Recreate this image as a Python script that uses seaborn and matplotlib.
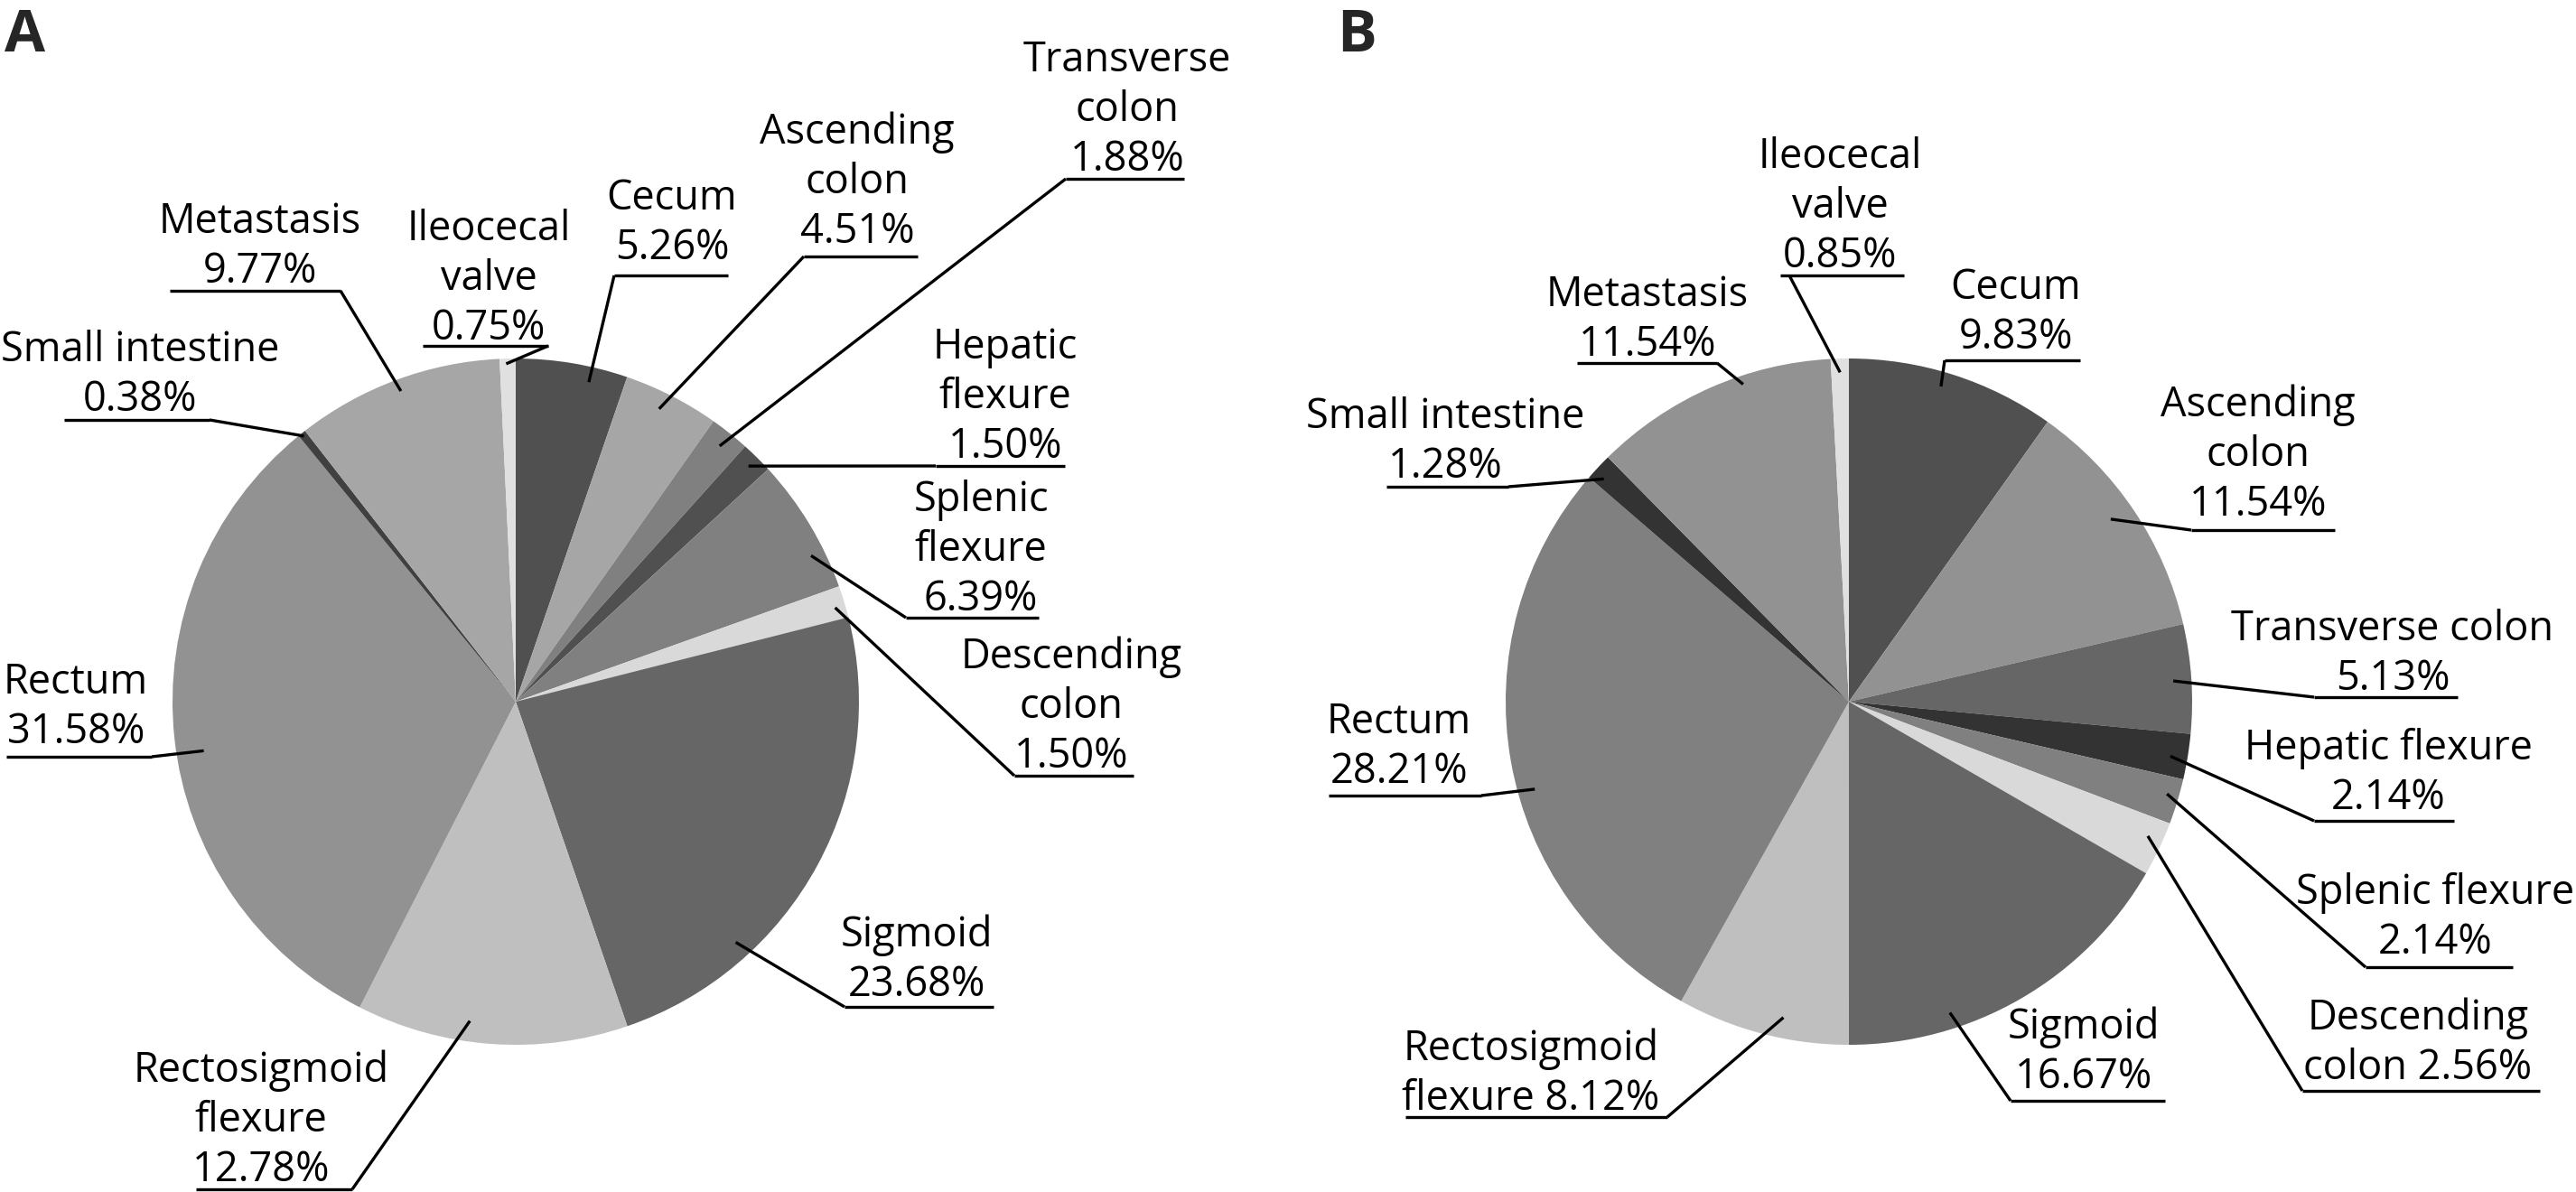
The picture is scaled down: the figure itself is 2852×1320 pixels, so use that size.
import numpy as np
import matplotlib
matplotlib.use("Agg")
import matplotlib.pyplot as plt
import seaborn as sns

# data -------------------------------------------------------------
sites = ["Cecum", "Ascending colon", "Transverse colon", "Hepatic flexure",
         "Splenic flexure", "Descending colon", "Sigmoid", "Rectosigmoid flexure",
         "Rectum", "Small intestine", "Metastasis", "Ileocecal valve"]

share_a = [5.26, 4.51, 1.88, 1.50, 6.39, 1.50, 23.68, 12.78, 31.58, 0.38, 9.77, 0.75]
share_b = [9.83, 11.54, 5.13, 2.14, 2.14, 2.56, 16.67, 8.12, 28.21, 1.28, 11.54, 0.85]

grey_a = ["#505050", "#a6a6a6", "#808080", "#505050", "#808080", "#d9d9d9",
          "#666666", "#bfbfbf", "#929292", "#404040", "#a6a6a6", "#e0e0e0"]
grey_b = ["#505050", "#929292", "#666666", "#333333", "#808080", "#d9d9d9",
          "#666666", "#bfbfbf", "#808080", "#333333", "#929292", "#e0e0e0"]

# label text, {} gets the percentage
text_a = ["Cecum\n{}", "Ascending\ncolon\n{}", "Transverse\ncolon\n{}", "Hepatic\nflexure\n{}",
          "Splenic\nflexure\n{}", "Descending\ncolon\n{}", "Sigmoid\n{}", "Rectosigmoid\nflexure\n{}",
          "Rectum\n{}", "Small intestine\n{}", "Metastasis\n{}", "Ileocecal\nvalve\n{}"]
text_b = ["Cecum\n{}", "Ascending\ncolon\n{}", "Transverse colon\n{}", "Hepatic flexure\n{}",
          "Splenic flexure\n{}", "Descending\ncolon {}", "Sigmoid\n{}", "Rectosigmoid\nflexure {}",
          "Rectum\n{}", "Small intestine\n{}", "Metastasis\n{}", "Ileocecal\nvalve\n{}"]

# layout (image pixels, y from top) ---------------------------------
W, H = 2852, 1320
R = 380
center_a = (571, 777)
center_b = (2047, 777)
LINE = 55

# text centre x, last baseline y, underline y, underline x0, x1, leader attach x,
# position inside slice (fraction of angle), radius fraction
place_a = [
    (744, 287, 305, 680, 806, 680, 0.68, 0.955),
    (949, 269, 284, 890, 1016, 890, 0.44, 0.95),
    (1248, 189, 198, 1180, 1311, 1180, 0.5, 0.953),
    (1113, 507, 516, 1036, 1179, 1036, 0.5, 0.965),
    (1086, 676, 684, 1003, 1150, 1003, 0.71, 0.96),
    (1186, 850, 859, 1123, 1255, 1123, 0.6, 0.97),
    (1015, 1103, 1115, 935, 1100, 935, 0.725, 0.95),
    (289, 1308, 1317, 217, 390, 390, 0.59, 0.94),
    (84, 823, 838, 7, 168, 168, 0.475, 0.92),
    (155, 455, 465, 71, 232, 232, 0.5, 0.99),
    (288, 313, 322, 188, 377, 377, 0.5, 0.965),
    (541, 376, 383, 468, 607, 607, 0.4, 0.985),
]
place_b = [
    (2232, 386, 399, 2153, 2303, 2153, 0.46, 0.957),
    (2500, 571, 587, 2426, 2585, 2426, 0.475, 0.93),
    (2649, 764, 772, 2562, 2721, 2562, 0.51, 0.947),
    (2644, 896, 909, 2562, 2717, 2562, 0.55, 0.95),
    (2696, 1056, 1071, 2619, 2782, 2619, 0.4, 0.965),
    (2677, 1195, 1208, 2549, 2812, 2549, 0.37, 0.955),
    (2307, 1205, 1219, 2226, 2397, 2226, 0.70, 0.953),
    (1695, 1229, 1237, 1556, 1846, 1846, 0.40, 0.94),
    (1549, 867, 881, 1471, 1640, 1640, 0.445, 0.95),
    (1600, 529, 539, 1535, 1670, 1670, 0.32, 0.965),
    (1824, 394, 402, 1746, 1901, 1901, 0.63, 0.975),
    (2037, 296, 305, 1971, 2108, 1981, 0.5, 0.96),
]

sns.set_theme(style="white")
plt.rcParams["font.family"] = ["Open Sans", "DejaVu Sans"]

fig = plt.figure(figsize=(W / 100, H / 100), dpi=100)
ax = fig.add_axes([0, 0, 1, 1])


def Y(y):
    return H - y


def draw_pie(vals, cols, texts, places, center):
    cx, cy = center
    ax.pie(vals, colors=cols, startangle=90, counterclock=False, radius=R,
           center=(cx, Y(cy)), wedgeprops=dict(linewidth=0, antialiased=True),
           normalize=True)
    total = float(np.sum(vals))
    start = np.concatenate([[0], np.cumsum(vals)[:-1]])
    for v, s, t, p in zip(vals, start, texts, places):
        tx, base, uly, ux0, ux1, attach, frac, rf = p
        lines = t.format(f"{v:.2f}%").split("\n")
        for k, ln in enumerate(reversed(lines)):
            ax.text(tx, Y(base - k * LINE), ln, ha="center", va="baseline",
                    fontsize=32.5, color="black")
        ax.plot([ux0, ux1], [Y(uly), Y(uly)], color="black", lw=2.4,
                solid_capstyle="butt")
        # leader from the underline end to a point inside the slice
        ang = np.deg2rad(360 * (s + frac * v) / total)
        ex = cx + rf * R * np.sin(ang)
        ey = cy - rf * R * np.cos(ang)
        ax.plot([attach, ex], [Y(uly), Y(ey)], color="black", lw=2.4,
                solid_capstyle="butt")


draw_pie(share_a, grey_a, text_a, place_a, center_a)
draw_pie(share_b, grey_b, text_b, place_b, center_b)

ax.text(5, Y(57), "A", fontsize=47, fontweight="bold", ha="left", va="baseline")
ax.text(1480, Y(57), "B", fontsize=47, fontweight="bold", ha="left", va="baseline")

ax.set_xlim(0, W)
ax.set_ylim(0, H)
ax.set_aspect("equal")
ax.axis("off")

fig.savefig("out.png", dpi=100, facecolor="white")
